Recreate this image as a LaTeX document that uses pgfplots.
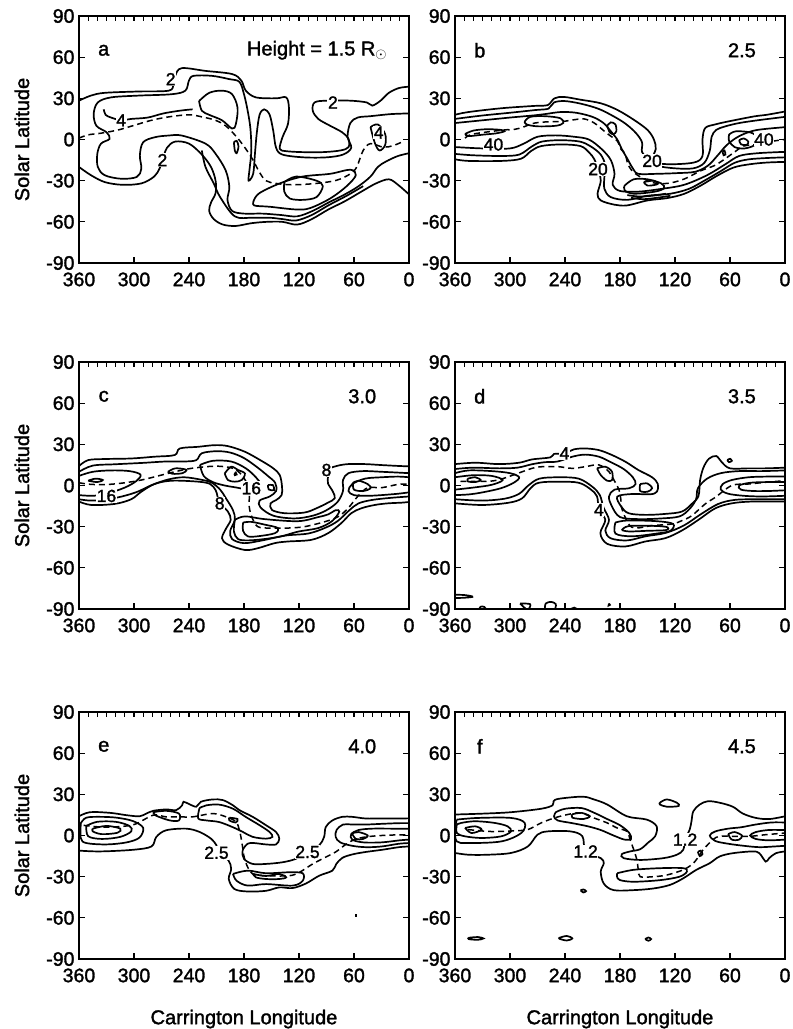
\documentclass[border=0pt]{standalone}
\usepackage{fontspec}
\setmainfont{Liberation Sans}[FakeBold=1.6]
\usepackage{pgfplots}
\pgfplotsset{compat=1.18}
\pgfplotsset{
 panel/.style={scale only axis, width=330pt, height=247pt, xmin=0, xmax=360, ymin=-90, ymax=90, x dir=reverse,
  xtick={0,60,120,180,240,300,360}, xticklabels={0,60,120,180,240,300,360},
  ytick={-90,-60,-30,0,30,60,90}, yticklabels={-90,-60,-30,0,30,60,90},
  xtick pos=left, ytick pos=both, tick align=inside, major tick length=6pt,
  tick style={line width=1.2pt, black}, axis line style={line width=1.7pt},
  ticklabel style={font=\fontsize{19.5}{21}\selectfont},
  xticklabel style={yshift=-6pt},
  yticklabel style={xshift=-1pt},
  label style={font=\fontsize{20}{22}\selectfont},
  ylabel style={at={(axis description cs:-0.173,0.5)}, anchor=center},
  xlabel style={at={(axis description cs:0.5,-0.243)}, anchor=center}},
 toptk/.style={scale only axis, width=330pt, height=247pt, xmin=0, xmax=360, ymin=-90, ymax=90, x dir=reverse,
  xtick={0,10,...,360}, xticklabels={}, ytick=\empty, xtick pos=right, tick align=inside,
  major tick length=5pt, tick style={line width=1.1pt, black}, axis line style={draw=none}},
 cl/.style={black, line width=1.7pt, smooth, tension=0.55, no markers},
 dl/.style={cl, line width=1.5pt, dash pattern=on 6pt off 4pt},
}
\tikzset{
 lt/.style={font=\fontsize{20}{22}\selectfont},
 cv/.style={font=\fontsize{17.5}{19}\selectfont, fill=white, inner sep=0.6pt},
}
\begin{document}
\begin{tikzpicture}
\useasboundingbox (0,0) rectangle (793pt,-1029pt);
% ================= panel a =================
\begin{axis}[panel, at={(79pt,-16pt)}, anchor=north west, ylabel={Solar Latitude}]
\addplot[cl] coordinates {(360,28.3)(347,32)(332,34)(295,35)(262,35.6)(257,40.4)(255,46.5)(248,52)(222,50)(193,47.7)(183,43)(178,35.6)(167,30.7)(145,30)(134,30.7)(131,23.5)(132,11.4)(138,1.7)(141,-6.8)(134,-8.5)(116,-9.2)(94,-9.2)(75,-8)(66,-5.6)(66,0.5)(73,5.3)(86,10)(99,15)(105,21)(103,27)(90,28.3)(64,28.3)(46,27)(40,24.7)(31,28.3)(22,34)(11,37.5)(0,38.5)};
\addplot[cl] coordinates {(360,-20)(347,-26)(332,-31)(313,-33)(292,-32)(278,-27)(272,-21)(269,-15)(264,-6)(255,-1.5)(240,-3)(226,-11)(216,-20)(211,-30)(211,-39)(216,-46)(218,-52)(213,-58)(203,-62)(189,-63)(172,-61)(155,-60)(138,-60)(122,-62)(106,-58)(88,-51)(70,-45)(52,-38)(36,-32)(22,-29)(12,-33)(0,-40)};
\addplot[cl] coordinates {(0,19)(20,18.5)(42,17)(56,16)(64,12)(67,2)(63,-6)(72,-11)(90,-13)(115,-13)(138,-11)(145,-6)(148,6)(152,18)(158,22)(163,18)(166,5)(168,-10)(170,-25)(175,-30)(174,-22)(172,-8)(173,8)(176,21)(180,33)(185,42)(196,44)(215,46.4)(235,46.4)(240,43)(244,35.6)(259,33)(295,32)(325,30.7)(339.5,27)(344,18.6)(341,10)(330,5.3)(326.6,0.5)(336,-3)(340,-10.4)(339.5,-20)(332,-26)(314,-28.6)(297,-27.3)(292,-21.3)(293.6,-11.6)(290,-2)(277,1.7)(262,2.9)(248,2.9)(222,-3)(211,-10.4)(200,-22.5)(196,-34.6)(198,-44)(193,-52)(180,-54)(160,-54)(140,-55)(122,-56)(105,-52)(88,-46)(70,-40)(55,-34)(42,-27)(34,-20)(25,-16)(12,-12)(0,-10)};
\addplot[cl] coordinates {(229,28)(226,21)(218,18)(204,14)(193,8)(189,11)(187,23)(193,33)(204,35.6)(218,34)(229,28)};
\addplot[cl] coordinates {(333,22)(331,18)(325,16)(314,14)(303,15)(285,16)(268,19)(250,21)(236,22)};
\addplot[cl] coordinates {(169,-44)(163,-39)(141,-32)(116,-27)(86,-25)(64,-22)(58,-26)(68,-34)(86,-43)(108,-50)(123,-51)(152,-49)(169,-48)(169,-44)};
\addplot[cl] coordinates {(136,-31)(123,-27)(101,-30)(94,-34)(101,-42)(116,-44)(130,-43)(136,-38)(136,-31)};
\addplot[cl] coordinates {(191,-2)(188,-1)(186,-5)(188,-10)(190,-8)(191,-2)};
\addplot[cl] coordinates {(42,9)(34,11)(26,4)(26,-4)(32,-8)(37,-3)(42,9)};
\addplot[cl] coordinates {(226,-8)(222,-20)(213,-32)(206,-42)(190,-56)(171,-57)(152,-57)(138,-58)(123,-59)(106,-55)(88,-48)(68,-41)(50,-34)};
\addplot[dl] coordinates {(360,1)(350,3.4)(336,4.6)(317,7)(299,10.5)(281,14)(262,16.5)(240,18)(226,16.5)(211,14)(200,10)(189,2.6)(180,-5)(171,-14)(163,-24)(156,-30)(145,-32)(127,-33)(101,-32)(79,-29.7)(64,-25)(57,-20)(50,-8)(42,-3)(28,-5.6)(17,-4.4)(5,-1)};
\node[cv] at (axis cs:260,44) {2};
\node[cv] at (axis cs:83,27) {2};
\node[cv] at (axis cs:269,-15) {2};
\node[cv] at (axis cs:314,14) {4};
\node[cv] at (axis cs:33,5) {4};
\node[lt] at (axis cs:333,65) {a};
\node[lt, anchor=east] at (axis cs:20,65) {Height = 1.5 R$_{\odot}$};
\end{axis}
\begin{axis}[toptk, at={(79pt,-16pt)}, anchor=north west]\end{axis}
% ================= panel b =================
\begin{axis}[panel, at={(455pt,-16pt)}, anchor=north west]
\addplot[cl] coordinates {(360,18)(345.5,20)(309,22.8)(273,24.5)(259,25)(251.5,30)(241,31)(223,29)(201,26.4)(183,21.6)(165,14.4)(150,7)(143,0)(141,-7)(145,-15.6)(128.5,-18)(99.5,-16.8)(90,-12)(90,0)(87,8.4)(76,11)(63,13)(34,16.8)(20,18)(0,20.4)};
\addplot[cl] coordinates {(360,-14.4)(345.5,-15.6)(309,-15.6)(288,-14)(277,-8.4)(266,-4.8)(244,-3.6)(223,-4.8)(213.5,-9.6)(208,-14.4)(204,-21.6)(201,-30)(204.5,-39.6)(201,-44.4)(186,-47.5)(172,-48)(150,-44.4)(128.5,-42.7)(110,-39.6)(92,-33.6)(74,-26.4)(56,-20.4)(38,-18)(20,-16.8)(0,-16.3)};
\addplot[cl] coordinates {(360,15)(330,17.5)(300,19.5)(272,21.5)(258,22.5)(252,27)(240,28)(222,26)(204,22.5)(190,18)(175,12)(163,5)(156,-2)(156,-9)(150,-14)(140,-19)(120,-21)(100,-21)(88,-17)(82,-8)(80,2)(75,7)(65,9.6)(50,12)(30,14)(0,16.5)};
\addplot[cl] coordinates {(0,-13)(20,-13.5)(40,-14.5)(55,-17)(70,-23)(88,-30)(105,-36)(125,-39.5)(150,-41)(172,-44)(190,-42)(197,-36)(197,-27)(196,-19)(201,-11)(212,-5)(224,-1.5)(245,-0.5)(265,-1.5)(276,-5)(290,-11)(310,-12)(340,-11.5)(360,-10.5)};
\addplot[cl] coordinates {(360,12)(330,14)(300,16)(275,17.5)(262,18.5)(245,20)(228,19.5)(210,16.5)(198,12)(190,6)(183,0)(178,-7)(172,-14)(166,-21)(160,-25)(140,-25)(118,-24.5)(98,-23.5)(84,-19)(74,-12)(65,-5)(56,0)(45,4)(30,7)(0,9)};
\addplot[cl] coordinates {(0,-9)(30,-10)(50,-12)(65,-18)(85,-26)(110,-33)(135,-36)(160,-38)(180,-37.5)(188,-33)(186,-25)(190,-15)(200,-7)(214,0)(230,2)(250,3)(270,2)(285,-3)(300,-6.5)(330,-6.5)(360,-5.5)};
\addplot[cl] coordinates {(349,4)(340,6.5)(325,7.5)(310,7)(306,6)(315,4.5)(330,3.5)(345,2.5)(349,4)};
\addplot[cl] coordinates {(284,13)(278,16.5)(262,17)(245,15.5)(242,12)(250,10)(270,9.6)(282,11)(284,13)};
\addplot[cl] coordinates {(194,10)(190,12.5)(185,11)(184,6)(187,4)(191,5)(194,10)};
\addplot[cl] coordinates {(175,-33.6)(165,-29)(150,-29)(135,-32)(132,-35.5)(142,-38)(165,-39.5)(175,-37)(175,-33.6)};
\addplot[cl] coordinates {(154,-31)(143,-30)(139,-32.5)(150,-33.6)(154,-31)};
\addplot[cl] coordinates {(172,-40.5)(160,-41.5)(145,-41)(130,-39.5)};
\addplot[cl] coordinates {(168,-42.5)(155,-43.5)(140,-42.5)(125,-41)};
\addplot[cl] coordinates {(61,3.6)(53.5,6)(37,5)(30,1)(33,-4)(44,-6.5)(55,-5.5)(61,-1)(61,3.6)};
\addplot[cl] coordinates {(50,-0.5)(45,0.8)(40,-1.5)(42,-4)(48,-3.5)(50,-0.5)};
\addplot[cl] coordinates {(68,-9)(66,-8)(65,-11)(67,-11.5)(68,-9)};
\addplot[dl] coordinates {(349,1)(340,4)(306,7)(299,7)(288,8.5)(273,12)(255,13)(244,13)(230,14.4)(219,15)(208,12)(197,6)(190,2.4)(183,-1)(179,-7)(174,-10.6)(172,-16.8)(165,-24)(146.5,-31)(128.5,-32)(110,-28.8)(92,-22.8)(77,-19)(66,-14.4)(56,-9.6)(45,-4.8)(31,-3.6)(13,-1.2)(0,0)};
\node[cv] at (axis cs:318,-3.6) {40};
\node[cv] at (axis cs:23,0) {40};
\node[cv] at (axis cs:145,-15.6) {20};
\node[cv] at (axis cs:204,-21.6) {20};
\node[lt] at (axis cs:333,65) {b};
\node[lt, anchor=east] at (axis cs:28,65) {2.5};
\end{axis}
\begin{axis}[toptk, at={(455pt,-16pt)}, anchor=north west]\end{axis}
% ================= panel c =================
\begin{axis}[panel, at={(79pt,-362pt)}, anchor=north west, ylabel={Solar Latitude}]
\addplot[cl] coordinates {(360,14.2)(350,18.5)(332,19.3)(303,19.7)(277.5,21)(255.6,22.2)(250,27)(230,28.2)(212,29.4)(197.5,28.7)(179,24.6)(161,18)(148,12.5)(141,7.6)(138.5,-0.8)(139,-7)(144.7,-10.5)(151,-13)(149.5,-17.8)(135.6,-20.2)(114,-19.7)(101,-16.6)(88.4,-12.5)(81,-9.3)(83,-4.5)(88.4,1.6)(88.4,6.4)(90,11.3)(79,14.2)(66.5,15.6)(48,15.6)(30,14.9)(10,14.2)(0,14)};
\addplot[cl] coordinates {(360,-11.7)(346.5,-14.2)(321,-13.4)(303,-10)(292,-4.5)(277.5,1.1)(259,3.5)(230,2.8)(217,1.1)(211,-3.3)(209,-7.6)(206.5,-13)(197.5,-19)(194.5,-25)(199.3,-31)(204,-38.4)(197.5,-43)(179,-47)(165,-45.7)(146.5,-42)(132,-40.8)(106.5,-39.6)(88.4,-34.8)(74,-27.5)(63,-20.2)(52,-16.6)(37.5,-14.2)(23,-13)(8,-12.5)(0,-12)};
\addplot[cl] coordinates {(360,10)(345,14.5)(320,15.5)(290,16.5)(265,17.5)(245,17.5)(232,18.5)(226,23.5)(210,25)(195,24)(180,20)(165,13)(154,7)(146,2)(145,-4)(152,-8)(163,-11)(162,-16)(148,-22)(125,-24)(105,-22)(90,-18)(78,-12)(72,-4)(72,4)(66,9)(50,10.5)(30,10)(0,9)};
\addplot[cl] coordinates {(0,-8)(20,-9)(40,-10.5)(55,-13)(65,-18)(78,-26)(92,-31)(110,-35)(135,-36.5)(160,-40)(180,-42)(193,-39)(195,-33)(190,-25)(192,-18)(200,-9)(206,-3)(215,2)(225,4)(245,6)(262,4.5)(280,0.5)(298,-5)(320,-9)(345,-11)(360,-10)};
\addplot[cl] coordinates {(360,7)(345,10)(325,11)(305,10.5)(293,8)(297,3.5)(310,-1.5)(330,-6)(345,-7.5)(360,-7)};
\addplot[cl] coordinates {(350,3.5)(342,5)(334,4)(340,2.5)(350,3.5)};
\addplot[cl] coordinates {(263,10)(255,12.5)(243,11.5)(247,9)(258,8.5)(263,10)};
\addplot[cl] coordinates {(201,8.8)(194,13.7)(186.5,11.3)(179,8.8)(182.5,4)(190,2.8)(197.5,4)(201,8.8)};
\addplot[cl] coordinates {(190.5,8.5)(189,9.5)(188,8)(190,7.5)(190.5,8.5)};
\addplot[cl] coordinates {(228,15)(214,18)(194,17.5)(178,12.5)(167,6)(162,1)(165,-3)(176,-3)(188,-1.5)(201,0)(214,2.5)(224,7)(228,15)};
\addplot[cl] coordinates {(153.8,0.3)(148.4,0.3)(147.3,-3.3)(153,-2.9)(153.8,0.3)};
\addplot[cl] coordinates {(190,-25)(179,-22.5)(157.5,-24.5)(121,-26)(99,-23)(88,-21)(80,-18)(76,-19)(84,-26)(99,-31)(121,-33.6)(139,-37)(157.5,-39)(175.6,-40)(186.5,-39)(191,-33.6)(190,-25)};
\addplot[cl] coordinates {(181,-27)(172,-26.5)(157.5,-28.5)(143,-31)(146.5,-34.8)(165,-37)(176,-37)(181,-33)(181,-27)};
\addplot[cl] coordinates {(0,6)(12,6.5)(30,6)(48,5)(62,1)(66,-4)(60,-7)(45,-7.5)(30,-7)(12,-6)(0,-5)};
\addplot[cl] coordinates {(61,2)(55,3.5)(45,1)(42,-2)(50,-4)(60,-3)(61,2)};
\addplot[dl] coordinates {(360,2)(346.5,0.8)(328,0.8)(310,2)(292,4)(270,7.6)(255.6,10)(237.5,12.5)(215,14)(201,13.7)(190,12)(181,6.5)(176,0)(174,-7)(174.5,-14)(172,-22)(165,-30)(150,-31)(132,-31)(114,-30)(92,-26.4)(77.5,-22.8)(66.5,-16.6)(56,-8)(45,-1.6)(30,-1.6)(12,0.8)(0,1)};
\node[cv] at (axis cs:330,-7.6) {16};
\node[cv] at (axis cs:172,-2) {16};
\node[cv] at (axis cs:206.5,-13) {8};
\node[cv] at (axis cs:90,11.3) {8};
\node[lt] at (axis cs:333,65) {c};
\node[lt, anchor=east] at (axis cs:32,65) {3.0};
\end{axis}
\begin{axis}[toptk, at={(79pt,-362pt)}, anchor=north west]\end{axis}
% ================= panel d =================
\begin{axis}[panel, at={(455pt,-362pt)}, anchor=north west]
\addplot[cl] coordinates {(360,15.6)(337.5,16.6)(312,15.6)(290,16.6)(276,19)(256,20.5)(252,23)(240.6,23.4)(230.5,26.3)(218,27)(203,25.8)(188.7,22.2)(174,17.3)(160,11.3)(145,6)(138.7,1.1)(139.8,-4.5)(147,-6.4)(167,-6.2)(183,-8.1)(178.6,-15.4)(170.6,-20.2)(152.5,-21.4)(130.7,-20.7)(112.5,-19)(101.7,-13.4)(94.4,-7.6)(92.6,4)(89,13)(83,19.5)(75,21.5)(69,17)(60,12.5)(40,12.5)(21.8,12.5)(0,13)};
\addplot[cl] coordinates {(360,-13)(330,-14.2)(301,-12.5)(286.7,-9.3)(277.6,-2)(268.6,2)(246.8,2.8)(225,2)(212,-2.8)(205,-8)(203,-17.8)(196,-25)(201.4,-34.8)(194,-42.5)(174,-44.4)(152.5,-40.8)(130.7,-38.4)(112.5,-32.8)(94.4,-25)(76,-16.6)(58,-13)(36.4,-11.7)(0,-11.7)};
\addplot[cl] coordinates {(360,12)(340,13)(312,12.5)(292,13)(276,15.5)(262,17)(248,17.5)(232,21)(218,22.5)(203,21)(190,17)(176,12)(166,6)(163,1)(170,-2)(186,-3)(192,-8)(189,-15)(180,-23)(160,-24.5)(135,-24)(115,-22.5)(104,-17)(97,-10)(95,-2)(85,5)(70,9)(50,10.5)(25,10.5)(0,11)};
\addplot[cl] coordinates {(0,-10)(30,-10)(55,-10.5)(73,-13.5)(92,-21)(110,-29)(130,-34.5)(152,-37)(172,-40)(190,-38.5)(196,-33)(192,-25)(198,-16)(202,-7)(210,-1)(225,5)(246,6)(268,5)(280,0)(290,-6)(305,-9.5)(330,-11)(360,-10)};
\addplot[cl] coordinates {(360,9)(345,11)(320,10.5)(300,9)(290,6)(296,2)(310,-2)(330,-5)(345,-6.5)(360,-7)};
\addplot[cl] coordinates {(360,6)(340,7.5)(320,7)(308,4)(320,0.5)(340,-1.5)(360,-3)};
\addplot[cl] coordinates {(346,5)(338,6)(332,4)(338,2.5)(346,3)(346,5)};
\addplot[cl] coordinates {(205,12.5)(196,13.7)(188.7,10)(188.7,4)(194,3.5)(201,7.6)(205,12.5)};
\addplot[cl] coordinates {(158,1)(150,1.5)(145,-2)(150,-4.5)(158,-4)(158,1)};
\addplot[cl] coordinates {(185,-27)(172,-25.5)(140,-26)(122,-28)(125,-33)(140,-35)(167,-37)(185,-35)(185,-27)};
\addplot[cl] coordinates {(178,-32.5)(170,-29.5)(140,-29.5)(128,-30.5)(130,-32.5)(150,-33)(170,-33.5)(178,-32.5)};
\addplot[cl] coordinates {(0,6.5)(20,6.5)(40,6)(58,4)(68,1)(70,-3)(62,-6)(45,-7.5)(25,-8)(0,-7.5)};
\addplot[cl] coordinates {(0,2.5)(20,2.5)(38,2)(50,0)(48,-3)(35,-4)(18,-4)(0,-3.5)};
\addplot[cl] coordinates {(63,18.5)(60,19.5)(58,18)(61,17)(63,18.5)};
\addplot[cl] coordinates {(360,-79.6)(350,-79.8)(343,-80.5)(341,-81.2)(350,-81.8)(360,-82)};
\addplot[cl] coordinates {(334,-90.5)(332,-88.3)(328,-88.5)(326,-90.5)};
\addplot[cl] coordinates {(289,-86)(278,-86.5)(281,-90.5)(289,-86)};
\addplot[cl] coordinates {(262,-90.5)(261,-86)(255,-84.8)(250,-86.5)(251,-90.5)};
\addplot[cl] coordinates {(235,-90.5)(230,-89)(226,-90.5)};
\addplot[cl] coordinates {(192,-86)(191,-87)(192.5,-87.5)(192,-86)};
\addplot[dl] coordinates {(354,3)(326,3)(312,4.2)(295,8)(276,12.5)(265,13.7)(247,13.7)(232,12.5)(218,13.7)(203,15)(192,10)(186.6,4)(181,-3.3)(179,-10.5)(177.5,-17.8)(167,-30.4)(145,-29.2)(123,-28)(112.5,-25.6)(101.7,-22)(87,-13.4)(76,-8.6)(58,0)(40,1.1)(21.8,2.3)(0,3.5)};
\node[cv] at (axis cs:240.6,23.4) {4};
\node[cv] at (axis cs:203,-17.8) {4};
\node[lt] at (axis cs:333,65) {d};
\node[lt, anchor=east] at (axis cs:28,65) {3.5};
\end{axis}
\begin{axis}[toptk, at={(455pt,-362pt)}, anchor=north west]\end{axis}
% ================= panel e =================
\begin{axis}[panel, at={(79pt,-712pt)}, anchor=north west, ylabel={Solar Latitude}, xlabel={Carrington Longitude}]
\addplot[cl] coordinates {(360,14)(348,17)(326,16.5)(308,14.8)(294,14)(286.5,16)(279,18)(265,19)(254,18.5)(247.5,22)(246,24.6)(239.5,22.8)(232,21)(227,24.6)(214,26.3)(203,25.8)(192,22)(185,18.5)(170.5,13.6)(156,7.5)(145,2.5)(141.5,-2.3)(145,-6.5)(156,-6.5)(169,-5.5)(176,-6)(181.5,-11)(180,-17)(170.5,-20.7)(156,-20.7)(138,-19.5)(123.5,-17)(110.7,-12)(98,-7.2)(92.6,-1)(90.8,6.2)(83.6,11)(72.7,13.6)(62,13.6)(47.3,12.4)(29.3,12.4)(11,12.4)(0,12.5)};
\addplot[cl] coordinates {(360,-11)(337,-11.6)(301,-10.4)(281,-8)(275.6,-1)(265,3.8)(243,5)(228.5,2.6)(216,-2.3)(210,-7.2)(207,-13)(197,-18)(194,-24.4)(196.6,-31.7)(190.4,-39)(176,-40.8)(156,-40.3)(141.5,-37.8)(127,-38.3)(112.5,-35)(98,-29.3)(83.6,-25.6)(79.3,-20.7)(72.7,-16.3)(62,-13.8)(47.3,-12)(29.3,-10.4)(11,-8.5)(0,-8)};
\addplot[cl] coordinates {(358,9)(352,13)(337,13.6)(319,13)(301,10.5)(290,5.6)(294,-1.5)(308,-5)(330,-6.5)(352,-5.5)(358,-2)(358,9)};
\addplot[cl] coordinates {(352,7)(340,10)(320,10)(305,7)(303,3)(315,-1)(335,-2.5)(350,-0.5)(352,7)};
\addplot[cl] coordinates {(345,5)(330,7)(315,5)(318,2)(335,1)(345,3)(345,5)};
\addplot[cl] coordinates {(279,17)(265,18)(251,16)(251,11)(261,11)(276,14.5)(279,17)};
\addplot[cl] coordinates {(228.5,20)(221,22)(207,22.5)(192,19.5)(178,13.5)(163,7.5)(152,2.5)(149,-1)(156,-2.3)(170.5,-1)(181,2.5)(192,6)(207,9.8)(221,11)(230,12.5)(228.5,20)};
\addplot[cl] coordinates {(196,13)(187,12)(189,9.5)(196,11)(196,13)};
\addplot[cl] coordinates {(192,-28)(176,-25.6)(156,-27.5)(131,-26.8)(116,-27.5)(116,-33)(127,-36.5)(156,-35.4)(176,-36.5)(188,-33)(192,-28)};
\addplot[cl] coordinates {(170,-28)(156,-29.5)(141.5,-28)(134,-30.5)(141.5,-31.7)(156,-31.7)(167,-30.5)(170,-28)};
\addplot[cl] coordinates {(0,9)(11,9)(30,8.5)(47,8)(62,8)(72,8)(79,4)(80,-1)(75,-5)(62,-7.5)(47,-8.5)(30,-8)(11,-6)(0,-5.5)};
\addplot[cl] coordinates {(0,5)(20,5)(40,5)(55,4)(63,1)(62,-3)(50,-5)(30,-5)(10,-3.5)(0,-3)};
\addplot[cl] coordinates {(62,1.5)(55,2.5)(45,0)(50,-2.5)(58,-2.5)(62,1.5)};
\addplot[cl] coordinates {(58.5,-57.5)(57.5,-57.5)(57.5,-58.5)(58.5,-58.5)(58.5,-57.5)};
\addplot[dl] coordinates {(355,7.4)(337,6.2)(322,6.2)(300,8)(279,14.8)(265,13.6)(250.6,13.6)(236,13.6)(214,16)(199.6,13.6)(188.7,10)(185,3.8)(183,-2.3)(181.5,-8.5)(179.8,-15.8)(176,-23)(170.5,-28)(156,-29.3)(131,-29.3)(120,-27)(105,-20.7)(91,-15.8)(80,-12)(70,-7)(60,-3)(47,-1)(30,0)(11,0.5)(0,0.5)};
\node[cv] at (axis cs:210,-12.6) {2.5};
\node[cv] at (axis cs:110.7,-12) {2.5};
\node[lt] at (axis cs:333,65) {e};
\node[lt, anchor=east] at (axis cs:32,65) {4.0};
\end{axis}
\begin{axis}[toptk, at={(79pt,-712pt)}, anchor=north west]\end{axis}
% ================= panel f =================
\begin{axis}[panel, at={(455pt,-712pt)}, anchor=north west, xlabel={Carrington Longitude}]
\addplot[cl] coordinates {(360,15.3)(327.5,16)(298.7,17)(266,19.5)(253.6,22)(252.5,25)(246.4,26.8)(221,28.3)(208.5,26.3)(194,22.6)(172.4,14)(150.8,11.6)(140,6.7)(141.7,-0.6)(149,-5)(158,-10)(169,-11.6)(178,-13.6)(176,-16.5)(158,-17.8)(132.7,-16.5)(118,-14)(111,-10.4)(109,-3)(104,4.3)(102,10.4)(100,17.7)(93,22.6)(84,25)(71.4,23.9)(57,21)(46,16)(31.7,12.8)(17,12)(0,14)};
\addplot[cl] coordinates {(360,-12.7)(345.6,-14)(324,-14)(298.7,-12.7)(280.6,-8)(270,0.6)(259,3)(234,3)(221,-0.6)(217.5,-11.6)(201,-16.5)(197.7,-20.2)(201,-26.3)(197.7,-35)(187,-39.8)(165,-39.8)(143.6,-38.6)(125.5,-36)(111,-31.2)(96.7,-25)(82.2,-20.2)(71.4,-15.3)(57,-12.9)(35.3,-11.6)(28,-12.9)(21,-19)(17.3,-16.5)(10,-12.9)(0,-11.6)};
\addplot[cl] coordinates {(358,11.6)(335,12.8)(298.7,12.8)(284,9.2)(287.7,1.8)(309.5,-4.3)(345.6,-5.5)(358,-4.3)(360,4)(358,11.6)};
\addplot[cl] coordinates {(358,8)(353,9.2)(338,10.4)(317,9.2)(302.6,6.7)(299,3)(309.5,-0.6)(331,-1.8)(349,-0.6)(358,1.8)(358,8)};
\addplot[cl] coordinates {(349,5.5)(338,6.7)(331,4.3)(342,1.8)(349,5.5)};
\addplot[cl] coordinates {(250,17)(240,19.5)(222,20)(208,16.5)(194,12)(180,7.5)(170,2)(168,-2.5)(175,-3)(187,0)(201,4)(215,6.7)(232,9)(248,11)(252,14)(250,17)};
\addplot[cl] coordinates {(232,15.5)(222,16.5)(213,14)(220,12)(232,13)(232,15.5)};
\addplot[cl] coordinates {(183,-27.5)(165,-25)(136,-23.8)(111,-23.8)(107,-26.3)(115,-30)(136,-32.5)(165,-33.7)(180,-32.5)(183.2,-30)(183,-27.5)};
\addplot[cl] coordinates {(0,9.5)(15,9.5)(32,8)(48,6)(62,5)(76,3)(82,0)(76,-4)(62,-6)(45,-7.5)(28,-8.5)(12,-8)(0,-7.5)};
\addplot[cl] coordinates {(0,4)(18,4)(32,2.5)(38,0)(32,-2.5)(18,-3.5)(0,-3)};
\addplot[cl] coordinates {(62,1)(55,2.5)(47,0)(50,-3)(58,-3)(62,1)};
\addplot[cl] coordinates {(136.5,23.9)(129,26.3)(118,23.9)(116,21.5)(129,21)(136.5,22.6)(136.5,23.9)};
\addplot[cl] coordinates {(95,-12)(92,-11)(90,-13.5)(93,-15)(95,-12)};
\addplot[cl] coordinates {(223,-40)(220,-39.3)(217,-40.5)(220,-41.5)(223,-40)};
\addplot[cl] coordinates {(345,-74.5)(335,-74)(329,-75)(335,-76)(345,-75.5)(345,-74.5)};
\addplot[cl] coordinates {(246,-74.5)(238,-73.2)(232,-75)(238,-76.5)(246,-75.3)(246,-74.5)};
\addplot[cl] coordinates {(152.5,-75.5)(149,-74.3)(146,-75.5)(149,-76.7)(152.5,-75.5)};
\addplot[dl] coordinates {(345.6,4.3)(324,3)(309.5,3)(295,3.5)(280.6,4.3)(266,9.2)(251.6,12.8)(237,15.3)(223,16.5)(208.5,12.8)(194,9.2)(183.2,5.5)(172.4,3)(169,-3)(165,-10.4)(161.6,-17.7)(160,-25)(158,-30)(143.6,-30)(129,-28.8)(111,-25)(100,-20.2)(93,-14)(89.4,-10.4)(78.6,-3)(71.4,-0.6)(57,-0.6)(39,-0.6)(21,0.6)(0,1.8)};
\node[cv] at (axis cs:217.5,-11.6) {1.2};
\node[cv] at (axis cs:109,-3) {1.2};
\node[lt] at (axis cs:333,65) {f};
\node[lt, anchor=east] at (axis cs:28,65) {4.5};
\end{axis}
\begin{axis}[toptk, at={(455pt,-712pt)}, anchor=north west]\end{axis}
\end{tikzpicture}
\end{document}
